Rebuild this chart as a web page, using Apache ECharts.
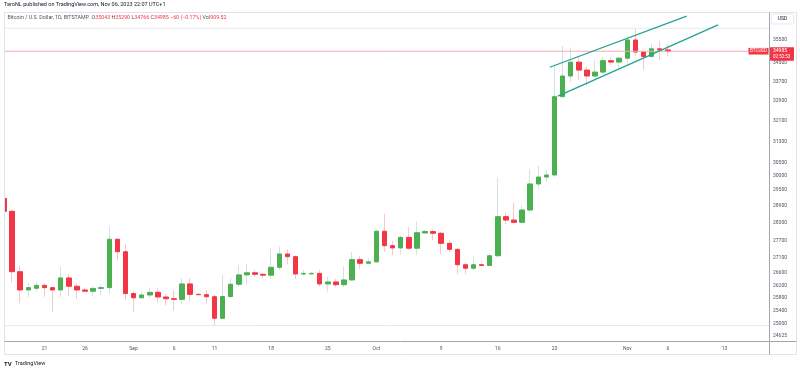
<!DOCTYPE html>
<html>
<head>
<meta charset="utf-8">
<script src="https://cdn.jsdelivr.net/npm/echarts@6.0.0/dist/echarts.min.js"></script>
<style>
html,body{margin:0;padding:0;background:#fff;}
#chart{width:800px;height:370px;}
</style>
</head>
<body>
<div id="chart"></div>
<script>
// daily BTCUSD candles, Aug 16 -> Nov 6 2023
const startDate = '2023-08-16';
const dayCount = 95;
const opens = [29170,28710,26645,26050,26105,26200,26125,26050,26440,26170,26050,26010,26100,26125,27735,27310,
  25935,25800,25890,25975,25825,25770,25750,26245,25910,25900,25835,25155,25840,26235,26540,26610,26560,26530,26790,27235,27145,26570,26575,26590,26245,26310,26220,26375,27045,26925,
  26970,28010,27515,27440,27800,27430,27950,28000,27940,27595,27390,26875,26760,26875,26850,27175,28520,28400,28320,28755,29695,29950,30025,33075,33930,34515,34180,33930,34095,34580,34520,
  34685,35475,34950,34760,35090,35043];
const highs = [29240,28760,26830,26265,26330,26260,26140,26810,26570,26250,26110,26170,26230,28170,27770,27565,
  26000,26000,26125,26125,25935,26030,26430,26430,25950,26050,25900,26540,26430,26865,26895,26700,26600,27425,27480,27390,27190,26700,26620,26700,26470,26410,26835,27300,27180,27070,
  28060,28615,27680,27845,28150,28340,28050,28080,28000,27690,27440,26950,27140,26950,27270,29925,28660,29015,28920,30235,30370,30235,34320,35210,35155,34750,34330,34590,34740,34740,34740,
  35650,35990,34980,35300,35440,35290];
const lows = [28690,26290,25625,25815,26000,25835,25360,25815,25855,25770,25990,25855,25880,25935,27015,25730,
  25360,25780,25800,25645,25570,25390,25600,25675,25870,25625,24930,25130,25780,26150,26220,26480,26420,26410,26700,26880,26410,26520,26540,26170,26000,26135,26135,26340,26740,26880,
  26950,27310,27190,27220,27360,27200,27930,27700,27230,27290,26570,26570,26700,26840,26820,27120,28250,28300,28290,28700,29500,29760,29950,33050,33695,33760,33530,33900,34000,34400,34180,
  34470,34760,34180,34700,34610,34766];
const closes = [28710,26645,26050,26125,26200,26125,26050,26440,26170,26050,26010,26100,26125,27735,27310,25935,
  25800,25890,25975,25825,25770,25750,26245,25910,25900,25835,25155,25840,26235,26540,26610,26560,26530,26790,27235,27145,26570,26590,26590,26245,26310,26220,26375,27045,26925,26970,
  28010,27515,27440,27800,27430,27960,28000,27940,27595,27390,26875,26760,26875,26850,27175,28520,28400,28320,28755,29695,29950,30025,33075,33930,34515,34180,33930,34095,34580,34520,34685,
  35475,34950,34760,35090,35045,34985];
const volume = '909.52';
const xLabelDates = ['2023-08-21','2023-08-26','2023-09-01','2023-09-06','2023-09-11','2023-09-18','2023-09-25',
  '2023-10-01','2023-10-09','2023-10-16','2023-10-23','2023-11-01','2023-11-06','2023-11-13'];
const yTicks = [24625,25000,25400,25800,26200,26600,27100,27700,28300,28900,29500,30000,30500,31300,32100,32900,33700,34500,35500];
const yMin = 24444, yMax = 36722;
// parallel channel drawn on the chart: [time, price] anchors
const channelUpper = [['2023-10-22T10:00', 34300], ['2023-11-08T08:00', 36540]];
const channelLower = [['2023-10-23T10:00', 33100], ['2023-11-12T05:00', 36140]];

const months = ['Jan','Feb','Mar','Apr','May','Jun','Jul','Aug','Sep','Oct','Nov','Dec'];
const t0 = Date.parse(startDate + 'T00:00Z');
const dayIdx = s => (Date.parse(s.length === 10 ? s + 'T00:00Z' : s + 'Z') - t0) / 864e5;
const dates = [];
for (let i = 0; i < dayCount; i++) dates.push(new Date(t0 + i * 864e5).toISOString().slice(0, 10));

const ln = Math.log;
const bodies = [], wicks = [];
opens.forEach((o, i) => {
  const c = closes[i];
  bodies.push([ln(o), ln(c), ln(Math.min(o, c)), ln(Math.max(o, c))]);
  wicks.push([ln(o), ln(c), ln(lows[i]), ln(highs[i])]);
});
const chanData = ch => ch.map(p => [dayIdx(p[0]), ln(p[1])]);
// full-width horizontal level at a price
const level = p => [[-0.5, ln(p)], [dayCount - 0.5, ln(p)]];

const UP = '#4caf50', DOWN = '#f23645';
const FONT = 'Roboto, "Liberation Sans", sans-serif';
const last = opens.length - 1;
const chg = closes[last] - closes[last - 1];
const pct = chg / closes[last - 1] * 100;
const sign = v => (v < 0 ? '\u2212' : '+');

const hline = (name, p, color) => ({
  name, type: 'line', xAxisIndex: 1, data: level(p), symbol: 'none', silent: true,
  lineStyle: {color, width: 1}
});

const chart = echarts.init(document.getElementById('chart'));
chart.setOption({
  animation: false,
  backgroundColor: '#fff',
  grid: {left: -1.4, right: 31, top: 12, bottom: 28.5},
  xAxis: [{
    type: 'category',
    data: dates,
    boundaryGap: true,
    axisLine: {show: false},
    axisTick: {show: false},
    splitLine: {show: false},
    axisLabel: {
      interval: (i, v) => xLabelDates.indexOf(v) >= 0,
      formatter: v => {
        const d = new Date(v + 'T00:00Z');
        return d.getUTCDate() === 1 ? months[d.getUTCMonth()] : String(d.getUTCDate());
      },
      fontSize: 5, color: '#50535e', fontFamily: FONT, margin: 5
    }
  }, {
    type: 'value', show: false, min: -0.5, max: dayCount - 0.5
  }],
  yAxis: {
    type: 'value',
    position: 'right',
    min: ln(yMin), max: ln(yMax),
    axisLine: {show: false},
    axisTick: {show: false},
    splitLine: {show: false},
    axisLabel: {
      customValues: yTicks.map(ln),
      formatter: v => String(Math.round(Math.exp(v))),
      fontSize: 5, color: '#50535e', fontFamily: FONT, margin: 4
    }
  },
  series: [
    hline('high', Math.max(...highs), '#e6e8ee'),
    hline('low', Math.min(...lows), '#e6e8ee'),
    hline('price', closes[last], '#f8a9b0'),
  {
    name: 'wick',
    type: 'candlestick',
    data: wicks,
    barWidth: 1,
    silent: true,
    itemStyle: {color: '#cfe3e8', color0: '#f9c6ca', borderColor: '#cfe3e8', borderColor0: '#f9c6ca', borderWidth: 1}
  }, {
    name: 'BTCUSD',
    type: 'candlestick',
    data: bodies,
    barWidth: 5,
    silent: true,
    itemStyle: {color: UP, color0: DOWN, borderColor: UP, borderColor0: DOWN, borderWidth: 1}
  }, {
    name: 'upper',
    type: 'line', xAxisIndex: 1,
    data: chanData(channelUpper),
    symbol: 'none', silent: true,
    lineStyle: {color: '#22a395', width: 1.3}
  }, {
    name: 'lower',
    type: 'line', xAxisIndex: 1,
    data: chanData(channelLower),
    symbol: 'none', silent: true,
    lineStyle: {color: '#22a395', width: 1.3}
  }]
});

const py = chart.convertToPixel({yAxisIndex: 0}, ln(closes[last]));
const seg = (x1, y1, x2, y2, c) => ({type: 'line', z: 100, silent: true, shape: {x1, y1, x2, y2}, style: {stroke: c, lineWidth: 1}});
chart.setOption({
  graphic: [
    {type: 'rect', z: 90, silent: true, shape: {x: 0, y: 12, width: 4.5, height: 330}, style: {fill: '#fff'}},
    seg(4.5, 12.5, 796.5, 12.5, '#e0e3eb'),
    seg(4.5, 12.5, 4.5, 354.5, '#e0e3eb'),
    seg(796.5, 12.5, 796.5, 354.5, '#e0e3eb'),
    seg(4.5, 354.5, 796.5, 354.5, '#e0e3eb'),
    seg(769.5, 12.5, 769.5, 354.5, '#a3a6af'),
    seg(4.5, 341.5, 796.5, 341.5, '#a3a6af'),
    {type: 'text', z: 100, left: 4, top: 2, style: {text: 'TaroNL published on TradingView.com, Nov 06, 2023 22:07 UTC+1', fontSize: 5.5, fill: '#131722', fontFamily: FONT}},
    {type: 'text', z: 100, left: 7.5, top: 15.5, style: {
      text: '{g|Bitcoin / U.S. Dollar, 1D, BITSTAMP  O}{r|' + opens[last] + '}{g| H}{r|' + highs[last] + '}{g| L}{r|' + lows[last] +
        '}{g| C}{r|' + closes[last] + ' ' + sign(chg) + Math.abs(Math.round(chg)) + ' (' + sign(pct) + Math.abs(pct).toFixed(2) + '%)}{g| Vol}{r|' + volume + '}',
      fontFamily: FONT,
      rich: {g: {fontSize: 5.3, fill: '#50535e', fontFamily: FONT}, r: {fontSize: 5.3, fill: DOWN, fontFamily: FONT}}
    }},
    {type: 'rect', z: 100, silent: true, shape: {x: 771.5, y: 14, width: 22, height: 10, r: 1}, style: {fill: '#fff', stroke: '#e0e3eb', lineWidth: 0.8}},
    {type: 'text', z: 101, x: 782.5, y: 19, style: {text: 'USD', fontSize: 5, fill: '#131722', align: 'center', verticalAlign: 'middle', fontFamily: FONT}},
    {type: 'rect', z: 100, silent: true, shape: {x: 748.5, y: py - 3.3, width: 20, height: 6.6}, style: {fill: DOWN}},
    {type: 'text', z: 101, x: 758.5, y: py, style: {text: 'BTCUSD', fontSize: 4.5, fill: '#fff', align: 'center', verticalAlign: 'middle', fontFamily: FONT}},
    {type: 'rect', z: 100, silent: true, shape: {x: 770, y: py - 4, width: 24, height: 13.5}, style: {fill: DOWN}},
    {type: 'text', z: 101, x: 773, y: py, style: {text: String(closes[last]), fontSize: 5, fill: '#fff', verticalAlign: 'middle', fontFamily: FONT}},
    {type: 'text', z: 101, x: 773, y: py + 6, style: {text: '02:52:53', fontSize: 4.5, fill: '#fff', verticalAlign: 'middle', fontFamily: FONT}},
    {type: 'text', z: 100, left: 4, top: 358, style: {text: '{b|TV} {n|TradingView}', rich: {b: {fontSize: 6, fontWeight: 'bold', fill: '#131722', fontFamily: FONT}, n: {fontSize: 5.5, fill: '#131722', fontFamily: FONT}}}}
  ]
});
</script>
</body>
</html>
